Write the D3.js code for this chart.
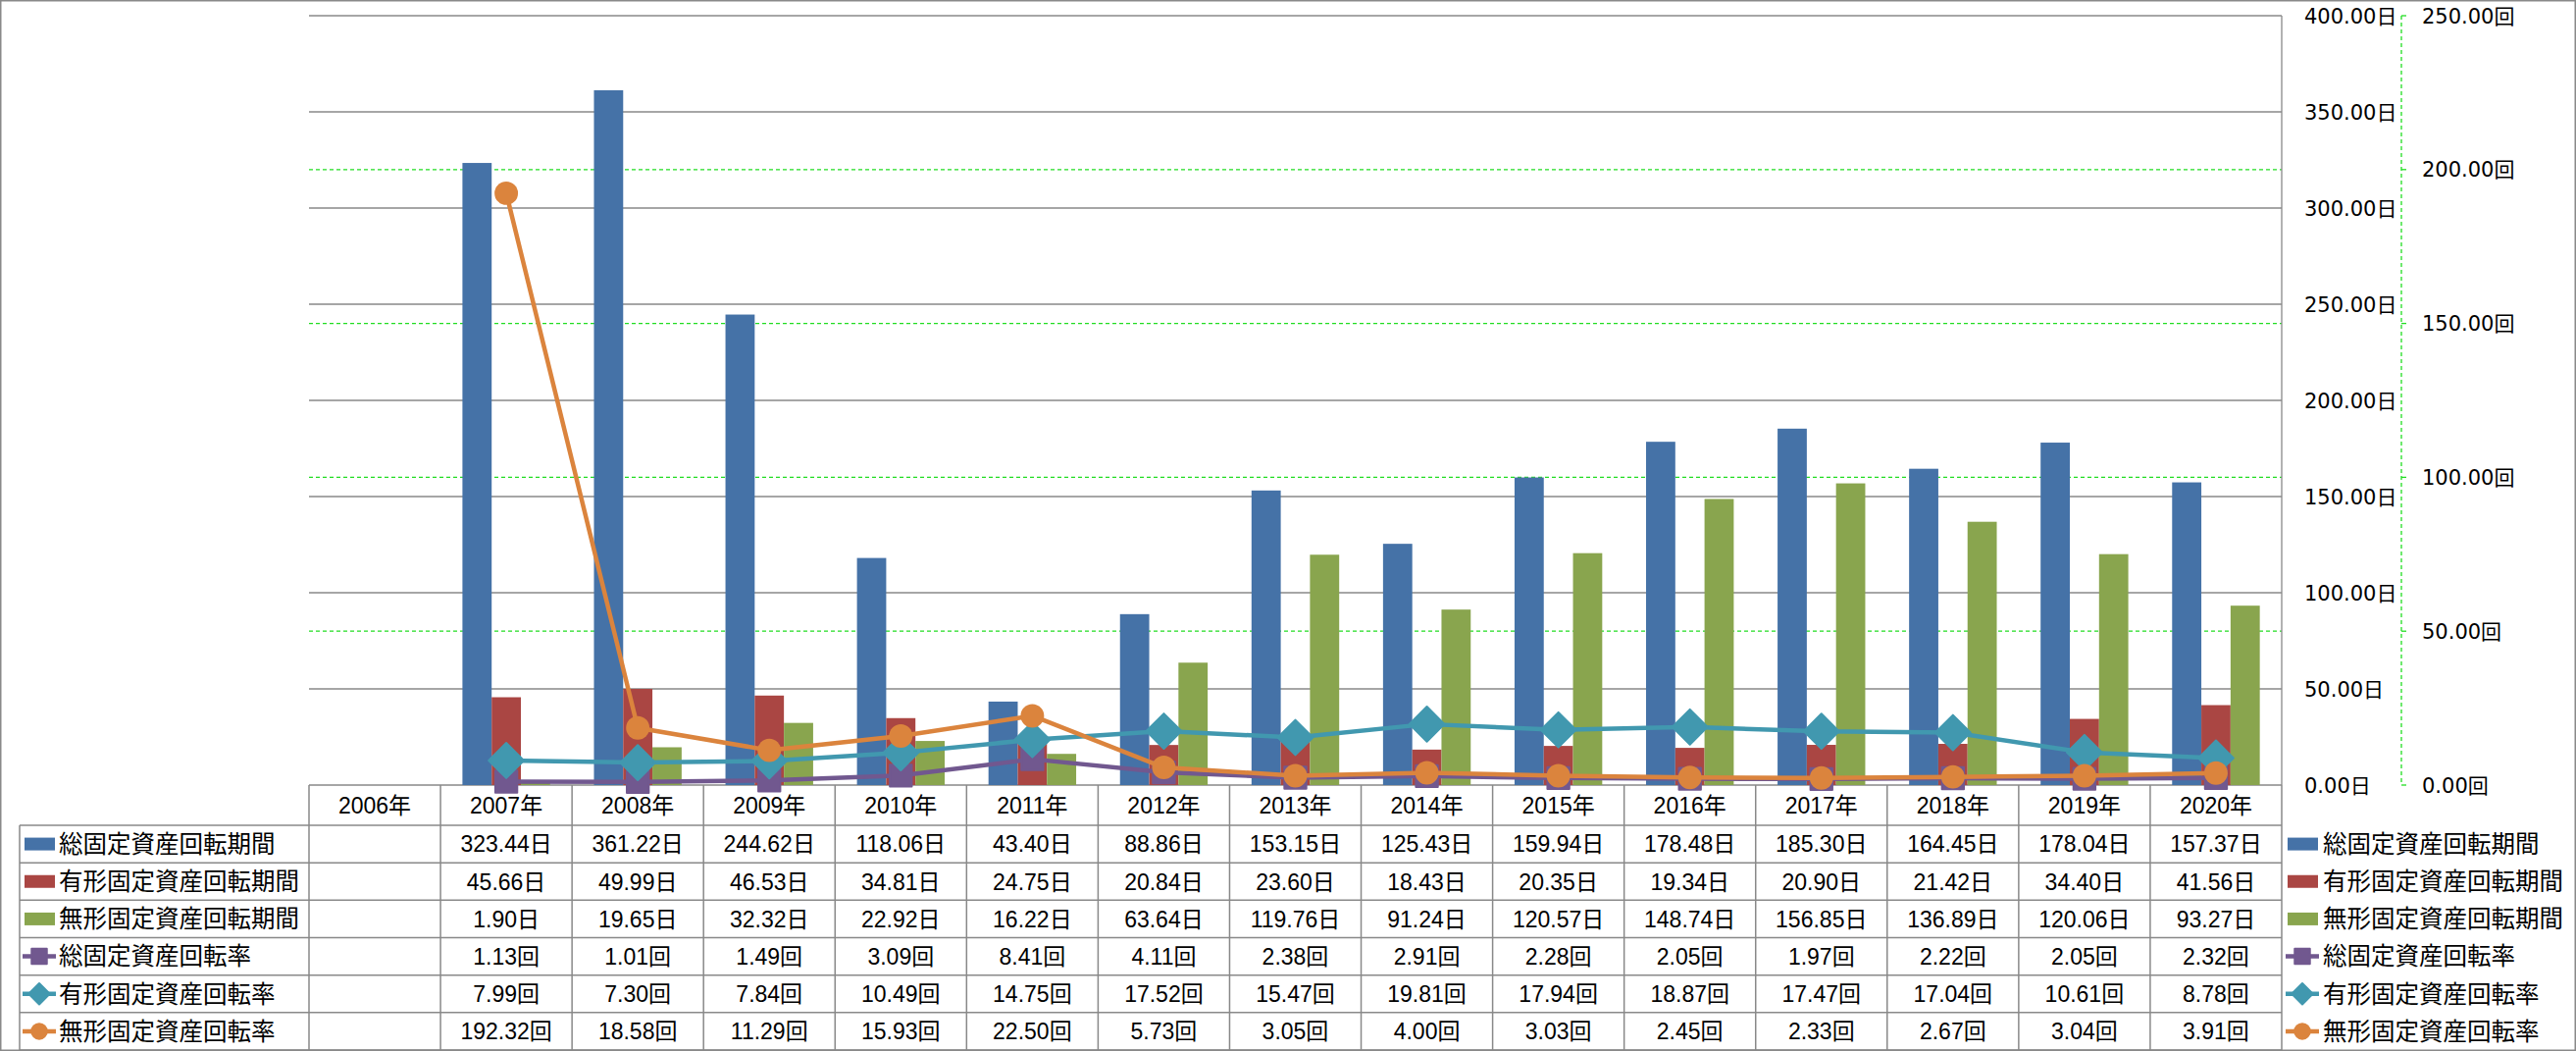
<!DOCTYPE html>
<html><head><meta charset="utf-8">
<script src="https://cdn.jsdelivr.net/npm/d3@7"></script>
<style>body{margin:0;background:#fff}svg{display:block}</style>
</head><body>
<svg id="c" width="2626" height="1071"></svg>
<script>
// ---------- data ----------
const categories = ["2006年","2007年","2008年","2009年","2010年","2011年","2012年","2013年","2014年","2015年","2016年","2017年","2018年","2019年","2020年"];
const periodNames = ["総固定資産回転期間","有形固定資産回転期間","無形固定資産回転期間"];
const rateNames = ["総固定資産回転率","有形固定資産回転率","無形固定資産回転率"];
const totalPeriod    = [null,323.44,361.22,244.62,118.06,43.40,88.86,153.15,125.43,159.94,178.48,185.30,164.45,178.04,157.37];
const tangiblePeriod = [null,45.66,49.99,46.53,34.81,24.75,20.84,23.60,18.43,20.35,19.34,20.90,21.42,34.40,41.56];
const intangiblePeriod=[null,1.90,19.65,32.32,22.92,16.22,63.64,119.76,91.24,120.57,148.74,156.85,136.89,120.06,93.27];
const totalRate      = [null,1.13,1.01,1.49,3.09,8.41,4.11,2.38,2.91,2.28,2.05,1.97,2.22,2.05,2.32];
const tangibleRate   = [null,7.99,7.30,7.84,10.49,14.75,17.52,15.47,19.81,17.94,18.87,17.47,17.04,10.61,8.78];
const intangibleRate = [null,192.32,18.58,11.29,15.93,22.50,5.73,3.05,4.00,3.03,2.45,2.33,2.67,3.04,3.91];
const dayTicks = [0,50,100,150,200,250,300,350,400];
const timesTicks = [0,50,100,150,200,250];
const dayUnit = "日", timesUnit = "回";

// ---------- styles ----------
const barColors = ["#4572A7","#AA4643","#89A54E"];
const lineColors = ["#71588F","#4198AF","#DB843D"];
const markerTypes = [d3.symbolSquare, d3.symbolSquare, d3.symbolCircle];
const markerRotate = [0, 45, 0];
const gridGray = "#898989";
const green = "#22dd22";
const numFont = "'Liberation Sans','Noto Sans CJK JP',sans-serif";
const axisFont = "'DejaVu Sans','Noto Sans CJK JP',sans-serif";
const cjkFont = "'Noto Sans CJK JP',sans-serif";

const periods = [totalPeriod, tangiblePeriod, intangiblePeriod];
const rates = [totalRate, tangibleRate, intangibleRate];

const svg = d3.select("#c");
const W = 2626, H = 1071;
const L = 315, R = 2326, T = 16, B = 800;
const tableLeft = 20, headerBottom = 841, tableBottom = 1070;

const x = d3.scaleBand().domain(categories).range([L, R]).paddingInner(0).paddingOuter(0);
const xs = d3.scaleBand().domain(d3.range(3)).range([0, x.bandwidth()]).paddingInner(0).paddingOuter(0.75);
const yDays = d3.scaleLinear().domain([0, 400]).range([B, T]);
const yTimes = d3.scaleLinear().domain([0, 250]).range([B, T]);
const rowY = d3.scaleBand().domain(d3.range(6)).range([headerBottom, tableBottom]);

svg.append("rect").attr("x",0).attr("y",0).attr("width",W).attr("height",H).attr("fill","#fff");

// secondary gridlines (dashed green)
svg.append("g").selectAll("line").data(timesTicks.filter(d=>d>0 && d<250)).join("line")
  .attr("x1", L).attr("x2", R).attr("y1", d=>yTimes(d)).attr("y2", d=>yTimes(d))
  .attr("stroke", green).attr("stroke-width", 1.3).attr("stroke-dasharray","4,3");
// primary gridlines
svg.append("g").selectAll("line").data(dayTicks.filter(d=>d>0)).join("line")
  .attr("x1", L).attr("x2", R).attr("y1", d=>yDays(d)).attr("y2", d=>yDays(d))
  .attr("stroke", gridGray).attr("stroke-width", 1.3);
// plot right border
svg.append("line").attr("x1",R).attr("x2",R).attr("y1",T).attr("y2",B).attr("stroke",gridGray).attr("stroke-width",1.3);

// ---------- data table grid (drawn under the series) ----------
const tbl = svg.append("g");
const lineAttr = sel => sel.attr("stroke", gridGray).attr("stroke-width", 1.5);
lineAttr(tbl.append("line").attr("x1",L).attr("x2",R).attr("y1",B).attr("y2",B));
lineAttr(tbl.selectAll("line.h").data(d3.range(6)).join("line").attr("class","h")
  .attr("x1",tableLeft).attr("x2",R).attr("y1",d=>rowY(d)).attr("y2",d=>rowY(d)));
lineAttr(tbl.append("line").attr("x1",tableLeft).attr("x2",R).attr("y1",tableBottom).attr("y2",tableBottom));
lineAttr(tbl.append("line").attr("x1",tableLeft).attr("x2",tableLeft).attr("y1",headerBottom).attr("y2",tableBottom));
lineAttr(tbl.selectAll("line.v").data(categories).join("line").attr("class","v")
  .attr("x1",d=>x(d)).attr("x2",d=>x(d)).attr("y1",B).attr("y2",tableBottom));
lineAttr(tbl.append("line").attr("x1",R).attr("x2",R).attr("y1",B).attr("y2",tableBottom));

// bars
periods.forEach((vals, si) => {
  svg.append("g").selectAll("rect").data(categories.map((c,i)=>({c, v: vals[i]})).filter(d=>d.v!=null)).join("rect")
    .attr("x", d => x(d.c) + xs(si))
    .attr("width", xs.bandwidth())
    .attr("y", d => yDays(d.v))
    .attr("height", d => B - yDays(d.v))
    .attr("fill", barColors[si]);
});

// primary axis labels (right side)
svg.append("g").selectAll("text").data(dayTicks).join("text")
  .attr("x", 2349).attr("y", d=>yDays(d)).attr("dy","0.36em")
  .attr("font-family", axisFont).attr("font-size", 21).attr("fill","#000")
  .text(d => d3.format(".2f")(d) + dayUnit);

// secondary axis
const ax2 = 2448;
svg.append("line").attr("x1",ax2).attr("x2",ax2).attr("y1",T).attr("y2",B)
  .attr("stroke",green).attr("stroke-width",1.3).attr("stroke-dasharray","4,3");
svg.append("g").selectAll("line").data(timesTicks).join("line")
  .attr("x1",ax2).attr("x2",ax2+5).attr("y1",d=>yTimes(d)).attr("y2",d=>yTimes(d))
  .attr("stroke",green).attr("stroke-width",1.3);
svg.append("g").selectAll("text").data(timesTicks).join("text")
  .attr("x", 2469).attr("y", d=>yTimes(d)).attr("dy","0.36em")
  .attr("font-family", axisFont).attr("font-size", 21).attr("fill","#000")
  .text(d => d3.format(".2f")(d) + timesUnit);

// lines
const plotSizes = [500, 640, 450];
rates.forEach((vals, si) => {
  const pts = categories.map((c,i)=>({c, v: vals[i]})).filter(d=>d.v!=null);
  const line = d3.line().x(d => x(d.c) + x.bandwidth()/2).y(d => yTimes(d.v));
  svg.append("path").datum(pts).attr("d", line).attr("fill","none")
    .attr("stroke", lineColors[si]).attr("stroke-width", 4.5).attr("stroke-linejoin","round");
  svg.append("g").selectAll("path").data(pts).join("path")
    .attr("transform", d => `translate(${x(d.c)+x.bandwidth()/2},${yTimes(d.v)}) rotate(${markerRotate[si]})`)
    .attr("d", d3.symbol().type(markerTypes[si]).size(plotSizes[si]))
    .attr("fill", lineColors[si]).attr("stroke", lineColors[si]).attr("stroke-width", si===2?0:2).attr("stroke-linejoin","round");
});

// ---------- table text + legends ----------
tbl.selectAll("text.hd").data(categories).join("text").attr("class","hd")
  .attr("x", d=>x(d)+x.bandwidth()/2).attr("y", (B+headerBottom)/2).attr("dy","0.36em")
  .attr("text-anchor","middle").attr("font-family", numFont).attr("font-size", 23).attr("fill","#000")
  .text(d=>d);

const allNames = periodNames.concat(rateNames);
const allVals = periods.concat(rates);
const units = [dayUnit, dayUnit, dayUnit, timesUnit, timesUnit, timesUnit];

function legendKey(g, i, cx) {
  if (i < 3) {
    g.append("rect").attr("x", cx+2).attr("y", -6.5).attr("width", 31).attr("height", 13).attr("fill", barColors[i]);
  } else {
    const k = i - 3;
    g.append("line").attr("x1", cx).attr("x2", cx+34).attr("y1",0).attr("y2",0)
      .attr("stroke", lineColors[k]).attr("stroke-width", 4.5);
    g.append("path").attr("transform", `translate(${cx+17},0) rotate(${markerRotate[k]})`)
      .attr("d", d3.symbol().type(markerTypes[k]).size([240, 230, 240][k]))
      .attr("fill", lineColors[k]).attr("stroke", lineColors[k]).attr("stroke-width", k===2?0:2).attr("stroke-linejoin","round");
  }
}

allNames.forEach((name, i) => {
  const cy = rowY(i) + rowY.bandwidth()/2;
  const g = svg.append("g").attr("transform", `translate(0,${cy})`);
  legendKey(g, i, 23);
  g.append("text").attr("x", 60).attr("dy","0.36em")
    .attr("font-family", cjkFont).attr("font-size", 24.5).attr("fill","#000").text(name);
  g.selectAll("text.val").data(categories.map((c,j)=>({c, v: allVals[i][j]})).filter(d=>d.v!=null)).join("text")
    .attr("class","val")
    .attr("x", d => x(d.c)+x.bandwidth()/2).attr("dy","0.36em").attr("text-anchor","middle")
    .attr("font-family", numFont).attr("font-size", 23).attr("fill","#000")
    .text(d => d3.format(".2f")(d.v) + units[i]);
  const g2 = svg.append("g").attr("transform", `translate(0,${cy})`);
  legendKey(g2, i, 2330);
  g2.append("text").attr("x", 2368).attr("dy","0.36em")
    .attr("font-family", cjkFont).attr("font-size", 24.5).attr("fill","#000").text(name);
});

// outer border
svg.append("rect").attr("x",0.75).attr("y",0.75).attr("width",W-1.5).attr("height",H-1.5)
  .attr("fill","none").attr("stroke",gridGray).attr("stroke-width",1.5);
</script>
</body></html>
